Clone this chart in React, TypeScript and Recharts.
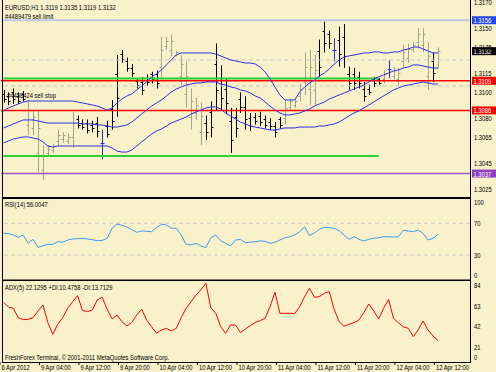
import React from 'react';
import { ComposedChart, Bar, Line, XAxis, YAxis, ReferenceLine } from 'recharts';

// EURUSD H1 bars, 6 Apr 20:00 .. 12 Apr 12:00
const OPEN = [
  1.3099, 1.3097, 1.3100, 1.3097, 1.3099, 1.3075, 1.3072, 1.3053, 1.3040, 1.3053,
  1.3055, 1.3062, 1.3064, 1.3062, 1.3065, 1.3079, 1.3076, 1.3076, 1.3075, 1.3076,
  1.3061, 1.3074, 1.3087, 1.3114, 1.3130, 1.3124, 1.3119, 1.3109, 1.3108, 1.3111,
  1.3114, 1.3114, 1.3120, 1.3136, 1.3133, 1.3129, 1.3113, 1.3099, 1.3081, 1.3084,
  1.3069, 1.3076, 1.3085, 1.3122, 1.3111, 1.3103, 1.3078, 1.3081, 1.3095, 1.3089,
  1.3080, 1.3081, 1.3082, 1.3079, 1.3077, 1.3074, 1.3079, 1.3080, 1.3089, 1.3090,
  1.3097, 1.3108, 1.3103, 1.3102, 1.3132, 1.3148, 1.3145, 1.3133, 1.3141, 1.3143,
  1.3114, 1.3114, 1.3112, 1.3103, 1.3103, 1.3110, 1.3110, 1.3110, 1.3118, 1.3113,
  1.3110, 1.3124, 1.3127, 1.3134, 1.3139, 1.3137, 1.3113, 1.3124, 1.3119,
];
const HIGH = [
  1.3102, 1.3100, 1.3103, 1.3100, 1.3101, 1.3094, 1.3086, 1.3086, 1.3059, 1.3059,
  1.3060, 1.3071, 1.3069, 1.3068, 1.3085, 1.3082, 1.3079, 1.3079, 1.3078, 1.3081,
  1.3071, 1.3078, 1.3094, 1.3129, 1.3133, 1.3127, 1.3122, 1.3111, 1.3112, 1.3114,
  1.3116, 1.3117, 1.3143, 1.3143, 1.3145, 1.3132, 1.3129, 1.3124, 1.3103, 1.3096,
  1.3092, 1.3082, 1.3093, 1.3138, 1.3121, 1.3111, 1.3088, 1.3088, 1.3100, 1.3097,
  1.3084, 1.3084, 1.3085, 1.3082, 1.3080, 1.3077, 1.3081, 1.3094, 1.3095, 1.3095,
  1.3107, 1.3131, 1.3133, 1.3129, 1.3141, 1.3155, 1.3148, 1.3142, 1.3151, 1.3153,
  1.3120, 1.3119, 1.3116, 1.3108, 1.3106, 1.3112, 1.3111, 1.3117, 1.3125, 1.3120,
  1.3119, 1.3137, 1.3138, 1.3139, 1.3150, 1.3150, 1.3139, 1.3131, 1.3135,
];
const LOW = [
  1.3092, 1.3090, 1.3091, 1.3091, 1.3093, 1.3067, 1.3067, 1.3038, 1.3032, 1.3050,
  1.3053, 1.3058, 1.3061, 1.3060, 1.3057, 1.3072, 1.3071, 1.3068, 1.3069, 1.3065,
  1.3048, 1.3065, 1.3071, 1.3081, 1.3123, 1.3116, 1.3112, 1.3103, 1.3098, 1.3105,
  1.3107, 1.3103, 1.3110, 1.3133, 1.3128, 1.3128, 1.3106, 1.3088, 1.3071, 1.3079,
  1.3059, 1.3063, 1.3065, 1.3086, 1.3086, 1.3083, 1.3053, 1.3065, 1.3084, 1.3071,
  1.3070, 1.3075, 1.3074, 1.3072, 1.3071, 1.3065, 1.3072, 1.3075, 1.3086, 1.3088,
  1.3093, 1.3098, 1.3090, 1.3090, 1.3112, 1.3131, 1.3134, 1.3124, 1.3120, 1.3119,
  1.3102, 1.3102, 1.3103, 1.3093, 1.3098, 1.3104, 1.3106, 1.3107, 1.3111, 1.3110,
  1.3106, 1.3119, 1.3123, 1.3131, 1.3134, 1.3131, 1.3102, 1.3108, 1.3119,
];
const CLOSE = [
  1.3095, 1.3093, 1.3095, 1.3093, 1.3095, 1.3086, 1.3081, 1.3072, 1.3051, 1.3056,
  1.3058, 1.3067, 1.3067, 1.3065, 1.3076, 1.3075, 1.3073, 1.3071, 1.3072, 1.3070,
  1.3061, 1.3068, 1.3078, 1.3096, 1.3126, 1.3119, 1.3115, 1.3106, 1.3102, 1.3108,
  1.3110, 1.3107, 1.3133, 1.3140, 1.3140, 1.3131, 1.3122, 1.3113, 1.3093, 1.3090,
  1.3082, 1.3069, 1.3073, 1.3102, 1.3096, 1.3092, 1.3063, 1.3072, 1.3089, 1.3079,
  1.3074, 1.3078, 1.3077, 1.3075, 1.3074, 1.3069, 1.3075, 1.3088, 1.3093, 1.3093,
  1.3103, 1.3120, 1.3120, 1.3117, 1.3120, 1.3138, 1.3138, 1.3133, 1.3130, 1.3128,
  1.3107, 1.3107, 1.3107, 1.3097, 1.3100, 1.3107, 1.3107, 1.3114, 1.3118, 1.3117,
  1.3115, 1.3131, 1.3134, 1.3137, 1.3145, 1.3145, 1.3128, 1.3115, 1.3132,
];

// Bollinger bands
const BB_UPPER = [
  1.30856, 1.30879, 1.30894, 1.3091, 1.30925, 1.30933, 1.30933, 1.30933, 1.30933, 1.30933,
  1.30933, 1.30933, 1.30933, 1.30933, 1.30933, 1.30925, 1.30918, 1.3091, 1.30902, 1.30894,
  1.30879, 1.30863, 1.30879, 1.30918, 1.30949, 1.30972, 1.30988, 1.31019, 1.3105, 1.31081,
  1.3112, 1.31143, 1.31174, 1.31213, 1.31252, 1.3129, 1.31306, 1.31306, 1.31306, 1.31306,
  1.31306, 1.31306, 1.31306, 1.31298, 1.31283, 1.31267, 1.31252, 1.31244, 1.31236, 1.31228,
  1.31228, 1.3122, 1.31197, 1.31158, 1.31104, 1.31042, 1.3098, 1.30941, 1.30941, 1.30941,
  1.31003, 1.31042, 1.31073, 1.31096, 1.31127, 1.31151, 1.31182, 1.3122, 1.31252, 1.31275,
  1.31283, 1.3129, 1.31298, 1.31306, 1.31306, 1.31314, 1.31314, 1.31306, 1.31306, 1.31314,
  1.31314, 1.31329, 1.31337, 1.31352, 1.31352, 1.31337, 1.31321, 1.31306, 1.31306,
];
const BB_MIDDLE = [
  1.30724, 1.30739, 1.30755, 1.3077, 1.30786, 1.30786, 1.30786, 1.30778, 1.3077, 1.30762,
  1.30762, 1.30762, 1.30762, 1.30762, 1.30762, 1.30762, 1.30755, 1.30755, 1.30755, 1.30747,
  1.30747, 1.30739, 1.30731, 1.30731, 1.30739, 1.30747, 1.3077, 1.30801, 1.30832, 1.30863,
  1.30894, 1.30918, 1.30941, 1.30972, 1.31003, 1.31026, 1.31042, 1.31057, 1.31065, 1.31073,
  1.31073, 1.31081, 1.31081, 1.31081, 1.31065, 1.31057, 1.31042, 1.31034, 1.31019, 1.31011,
  1.30995, 1.30972, 1.30957, 1.30925, 1.30894, 1.30863, 1.3084, 1.30825, 1.30825, 1.30832,
  1.3084, 1.30856, 1.30871, 1.30894, 1.3091, 1.30925, 1.30949, 1.30964, 1.3098, 1.30995,
  1.31011, 1.31026, 1.31042, 1.31057, 1.31081, 1.31104, 1.3112, 1.31135, 1.31151, 1.31166,
  1.31174, 1.31189, 1.31197, 1.31213, 1.31213, 1.31205, 1.31197, 1.31189, 1.31189,
];
const BB_LOWER = [
  1.30607, 1.30623, 1.30638, 1.30646, 1.30654, 1.30654, 1.30646, 1.30638, 1.30615, 1.30584,
  1.30576, 1.30584, 1.30584, 1.30584, 1.30584, 1.30584, 1.30584, 1.30584, 1.30584, 1.30584,
  1.30584, 1.30584, 1.30568, 1.30545, 1.30537, 1.30537, 1.30553, 1.30584, 1.30615, 1.30646,
  1.30677, 1.307, 1.30716, 1.30739, 1.30762, 1.30778, 1.30793, 1.30809, 1.30832, 1.30848,
  1.30863, 1.30879, 1.30887, 1.30887, 1.30871, 1.3084, 1.30817, 1.30793, 1.3077, 1.30755,
  1.30739, 1.30731, 1.30724, 1.30716, 1.30708, 1.30708, 1.30716, 1.30724, 1.30724, 1.30724,
  1.30731, 1.30731, 1.30731, 1.30731, 1.30739, 1.30739, 1.30747, 1.30755, 1.3077, 1.30793,
  1.30817, 1.3084, 1.30856, 1.30879, 1.30902, 1.30925, 1.30949, 1.30972, 1.30995, 1.31019,
  1.31034, 1.3105, 1.31057, 1.31065, 1.31073, 1.31081, 1.31073, 1.31065, 1.31065,
];

const RSI_14 = [
  57.4, 57.0, 55.2, 52.3, 55.0, 44.8, 49.8, 39.7, 41.7, 43.5,
  43.5, 46.8, 46.0, 48.9, 50.2, 50.6, 51.0, 50.2, 49.3, 48.0,
  48.5, 51.0, 63.7, 69.0, 67.5, 65.3, 62.0, 58.6, 60.3, 59.9,
  59.4, 64.5, 68.7, 68.0, 63.7, 63.7, 55.2, 43.5, 42.8, 44.8,
  41.4, 39.3, 51.8, 55.2, 48.0, 44.8, 41.4, 48.9, 49.8, 45.5,
  46.2, 46.8, 47.7, 47.3, 44.8, 46.2, 48.9, 51.8, 53.1, 55.2,
  59.4, 65.7, 54.4, 58.1, 62.4, 64.9, 64.5, 63.7, 60.7, 55.2,
  49.8, 53.1, 49.8, 47.7, 49.8, 51.0, 51.8, 53.1, 53.1, 52.7,
  53.1, 61.1, 60.3, 59.4, 61.5, 57.4, 48.9, 51.0, 56.0,
];
const ADX_5 = [
  61.2, 56.4, 55.0, 45.4, 43.4, 43.7, 45.4, 52.3, 58.4, 40.3,
  28.4, 38.6, 45.4, 55.0, 61.8, 68.0, 52.9, 51.6, 53.3, 63.5,
  66.3, 54.0, 44.1, 48.2, 41.3, 36.9, 40.6, 48.2, 54.0, 43.0,
  36.2, 29.4, 32.8, 34.5, 31.8, 34.5, 45.4, 55.0, 61.8, 68.6,
  73.8, 80.6, 55.7, 49.9, 36.2, 29.4, 37.9, 37.9, 30.1, 33.8,
  37.2, 40.6, 42.4, 44.8, 56.7, 71.4, 49.9, 49.9, 49.9, 49.5,
  56.7, 67.0, 75.5, 66.3, 67.0, 70.4, 72.1, 53.3, 41.3, 36.6,
  38.6, 40.3, 43.0, 50.6, 59.4, 52.3, 44.1, 55.0, 64.2, 44.8,
  40.3, 35.9, 34.5, 26.0, 32.8, 42.0, 32.8, 26.7, 22.1,
];

const PRICE_TICKS = [1.317, 1.315, 1.3135, 1.3115, 1.31, 1.308, 1.3065, 1.3045, 1.3025];
const RSI_TICKS = [0, 30, 70, 100];
const ADX_TICKS = [0, 21, 42, 63, 84];
const TIME_TICKS = [
  '6 Apr 20:00', '9 Apr 04:00', '9 Apr 12:00', '9 Apr 20:00', '10 Apr 04:00', '10 Apr 12:00',
  '10 Apr 20:00', '11 Apr 04:00', '11 Apr 12:00', '11 Apr 20:00', '12 Apr 04:00', '12 Apr 12:00',
];
const TIME_TICK_LABELS = [
  '6 Apr 2012', '9 Apr 04:00', '9 Apr 12:00', '9 Apr 20:00', '10 Apr 04:00', '10 Apr 12:00',
  '10 Apr 20:00', '11 Apr 04:00', '11 Apr 12:00', '11 Apr 20:00', '12 Apr 04:00', '12 Apr 12:00',
];

// order / level lines
const SELL_LIMIT = 1.3156;
const BID = 1.3132;
const GREEN_HI = 1.31108;
const GREEN_LO = 1.30506;
const RED_HI = 1.3109;
const RED_LO = 1.3086;
const PURPLE = 1.3037;
const GRID_LEVELS = [1.31252, 1.3105];

const BG = '#f8f1ca';
const FONT = '"Liberation Sans", Arial, sans-serif';
const BAR_UP = '#a3a38a';
const BAR_DOWN = '#000000';
const BAR_FLAT = '#1f2fe8';
const BAND = '#2e2ee8';
const GRID = '#c8c8c8';

const pad = (n: number) => String(n).padStart(2, '0');
// 4 friday evening bars, then the week resumes monday 00:00; 6 empty slots on the right
const TIMES = Array.from({ length: 95 }, (_, i) =>
  i < 4 ? `6 Apr ${20 + i}:00` : `${9 + Math.floor((i - 4) / 24)} Apr ${pad((i - 4) % 24)}:00`
);

const rows = TIMES.map((t, i) => ({
  t,
  range: i < OPEN.length ? [LOW[i], HIGH[i]] : null,
  o: OPEN[i],
  h: HIGH[i],
  l: LOW[i],
  c: CLOSE[i],
  up: BB_UPPER[i],
  mid: BB_MIDDLE[i],
  lo: BB_LOWER[i],
  rsi: RSI_14[i],
  adx: ADX_5[i],
}));

function Txt({ x, y, children, fill = '#000', size = 8 }: any) {
  return (
    <text transform={`translate(${x},${y}) scale(0.73,1)`} fontFamily={FONT} fontSize={size} fill={fill}>
      {children}
    </text>
  );
}

function OhlcBar(props: any) {
  const { x, y, width, height, payload } = props;
  if (!payload || payload.h == null) return null;
  const top = Math.min(y, y + height);
  const bottom = Math.max(y, y + height);
  const span = payload.h - payload.l || 1;
  const yOf = (p: number) => Math.round(top + ((payload.h - p) / span) * (bottom - top)) + 0.5;
  const cx = Math.round(x + width / 2) + 0.5;
  const color = payload.c > payload.o ? BAR_UP : payload.c < payload.o ? BAR_DOWN : BAR_FLAT;
  return (
    <g stroke={color} strokeWidth={1}>
      <line x1={cx} x2={cx} y1={top} y2={bottom} />
      <line x1={cx - 2} x2={cx} y1={yOf(payload.o)} y2={yOf(payload.o)} />
      <line x1={cx} x2={cx + 2} y1={yOf(payload.c)} y2={yOf(payload.c)} />
    </g>
  );
}

function PriceTag({ viewBox, tagText, tagFill }: any) {
  if (!viewBox) return null;
  const x = viewBox.x + viewBox.width + 2;
  const y = viewBox.y;
  return (
    <g>
      <rect x={x} y={y - 4} width={25} height={8} fill={tagFill} />
      <Txt x={x + 1.5} y={y + 3} fill="#fff">{tagText}</Txt>
    </g>
  );
}

const priceTick = ({ y, payload }: any) => (
  <Txt x={474} y={y + 3}>{Number(payload.value).toFixed(4)}</Txt>
);
const rsiTick = ({ y, payload }: any) => (
  <Txt x={474} y={y + 3 + (payload.value === 0 ? -4 : payload.value === 100 ? 2 : 0)}>{payload.value}</Txt>
);
const adxTick = ({ y, payload }: any) => (
  <Txt x={474} y={y + 3 + (payload.value === 0 ? -5 : 5)}>{payload.value}</Txt>
);
const timeTick = ({ x, index }: any) => (
  <g>
    <line x1={x - 3.5} x2={x - 3.5} y1={82} y2={85} stroke="#000" />
    <Txt x={x - 2} y={89.5}>{TIME_TICK_LABELS[index]}</Txt>
  </g>
);

const MARGIN = { top: 0, right: 0, bottom: 0, left: 1 };

export default function App() {
  return (
    <div style={{ position: 'fixed', left: 0, top: 0, width: 496, height: 372, background: BG, overflow: 'hidden' }}>
      <div style={{ position: 'absolute', left: 0, top: 0 }}>
        <ComposedChart width={496} height={197} data={rows} margin={MARGIN}>
          <XAxis dataKey="t" scale="band" hide />
          <YAxis
            orientation="right"
            width={26}
            type="number"
            domain={[1.30188, 1.31717]}
            allowDataOverflow
            ticks={PRICE_TICKS}
            interval={0}
            axisLine={false}
            tickLine={false}
            tick={priceTick}
          />
          {GRID_LEVELS.map((v) => (
            <ReferenceLine key={v} y={v} stroke={GRID} strokeDasharray="4 3" />
          ))}
          <ReferenceLine y={SELL_LIMIT} stroke="#c6c6e8" strokeWidth={2} label={<PriceTag tagText="1.3156" tagFill="#2348f0" />} />
          <ReferenceLine y={BID} stroke="none" strokeOpacity={0} label={<PriceTag tagText="1.3132" tagFill="#000" />} />
          <ReferenceLine segment={[{ x: TIMES[0], y: GREEN_HI }, { x: TIMES[76], y: GREEN_HI }]} stroke="#33cc33" strokeWidth={2} />
          <ReferenceLine segment={[{ x: TIMES[0], y: GREEN_LO }, { x: TIMES[76], y: GREEN_LO }]} stroke="#33cc33" strokeWidth={2} />
          <ReferenceLine y={RED_HI} stroke="#ff0000" strokeWidth={1.5} label={<PriceTag tagText="1.3109" tagFill="#ff0000" />} />
          <ReferenceLine y={RED_LO} stroke="#ff0000" strokeWidth={1.5} label={<PriceTag tagText="1.3086" tagFill="#ff0000" />} />
          <ReferenceLine y={PURPLE} stroke="#9a55cc" strokeWidth={1.5} label={<PriceTag tagText="1.3037" tagFill="#8c3fc4" />} />
          <Line dataKey="up" type="linear" stroke={BAND} strokeWidth={1} dot={false} isAnimationActive={false} />
          <Line dataKey="mid" type="linear" stroke={BAND} strokeWidth={1} dot={false} isAnimationActive={false} />
          <Line dataKey="lo" type="linear" stroke={BAND} strokeWidth={1} dot={false} isAnimationActive={false} />
          <Bar dataKey="range" barSize={3} shape={<OhlcBar />} isAnimationActive={false} />
        </ComposedChart>
      </div>

      <div style={{ position: 'absolute', left: 0, top: 198 }}>
        <ComposedChart width={496} height={82} data={rows} margin={MARGIN}>
          <XAxis dataKey="t" scale="band" hide />
          <YAxis
            orientation="right"
            width={26}
            type="number"
            domain={[-1.5, 101.9]}
            allowDataOverflow
            ticks={RSI_TICKS}
            interval={0}
            axisLine={false}
            tickLine={false}
            tick={rsiTick}
          />
          <ReferenceLine y={70} stroke={GRID} strokeDasharray="4 3" />
          <ReferenceLine y={30} stroke={GRID} strokeDasharray="4 3" />
          <Line dataKey="rsi" type="linear" stroke="#3d9df2" strokeWidth={1} dot={false} isAnimationActive={false} />
        </ComposedChart>
      </div>

      <div style={{ position: 'absolute', left: 0, top: 280 }}>
        <ComposedChart width={496} height={92} data={rows} margin={MARGIN}>
          <XAxis
            dataKey="t"
            scale="band"
            height={10}
            ticks={TIME_TICKS}
            interval={0}
            axisLine={false}
            tickLine={false}
            tick={timeTick}
          />
          <YAxis
            orientation="right"
            width={26}
            type="number"
            domain={[0, 84]}
            allowDataOverflow
            ticks={ADX_TICKS}
            interval={0}
            axisLine={false}
            tickLine={false}
            tick={adxTick}
          />
          <Line dataKey="adx" type="linear" stroke="#ff0000" strokeWidth={1} dot={false} isAnimationActive={false} />
        </ComposedChart>
      </div>

      <svg width={496} height={372} style={{ position: 'absolute', left: 0, top: 0, pointerEvents: 'none' }}>
        <line x1={2.5} x2={2.5} y1={0} y2={362.5} stroke="#000" />
        <line x1={470.5} x2={470.5} y1={0} y2={362.5} stroke="#000" />
        <rect x={2} y={197} width={469} height={2} fill="#000" />
        <rect x={2} y={279.5} width={469} height={1.5} fill="#000" />
        <line x1={2} x2={471} y1={362.5} y2={362.5} stroke="#000" />
        <Txt x={5} y={9.5}>EURUSD,H1  1.3119 1.3135 1.3119 1.3132</Txt>
        <Txt x={5} y={19}>#4489479 sell limit</Txt>
        <Txt x={7} y={97.5}>#4458424 sell stop</Txt>
        <Txt x={5} y={207}>RSI(14) 56.0047</Txt>
        <Txt x={5} y={289.5}>ADX(5) 22.1295 +DI:10.4758 -DI:13.7129</Txt>
        <Txt x={5} y={359.5}>FreshForex Terminal, © 2001-2011 MetaQuotes Software Corp.</Txt>
      </svg>
    </div>
  );
}
